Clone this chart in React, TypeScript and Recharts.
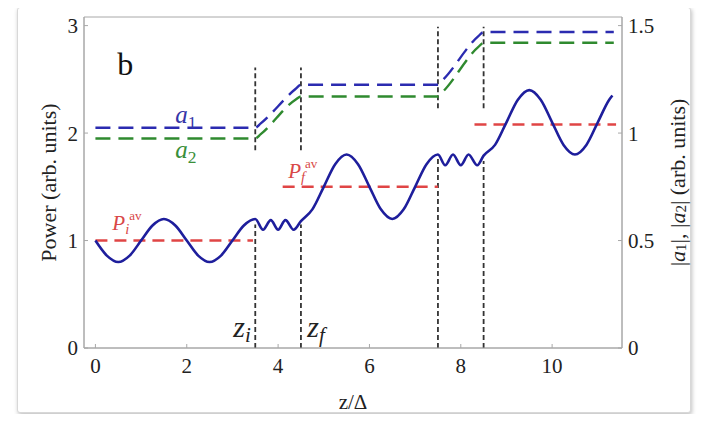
import React from 'react'
import {
  ComposedChart,
  Line,
  XAxis,
  YAxis,
  ReferenceLine,
  ReferenceDot,
  ReferenceArea,
} from 'recharts'

// power P(z)
const powerZ = [
  0, 0.25, 0.5, 0.75, 1, 1.25, 1.5, 1.75, 2, 2.25, 2.5, 2.75, 3, 3.25, 3.5,
  3.67, 3.84, 4.0, 4.16, 4.34, 4.5, 4.75, 5, 5.25, 5.5, 5.75, 6, 6.25, 6.5,
  6.75, 7, 7.25, 7.5, 7.66, 7.83, 8.0, 8.17, 8.36, 8.5, 8.75, 9, 9.25, 9.5,
  9.75, 10, 10.25, 10.5, 10.75, 11, 11.25, 11.32,
]
const powerP = [
  1.0, 0.86, 0.8, 0.86, 1.0, 1.14, 1.2, 1.14, 1.0, 0.86, 0.8, 0.86, 1.0, 1.14, 1.2,
  1.1, 1.19, 1.1, 1.19, 1.1, 1.18, 1.29, 1.5, 1.71, 1.8, 1.71, 1.5, 1.29, 1.2,
  1.29, 1.5, 1.71, 1.8, 1.7, 1.8, 1.7, 1.8, 1.7, 1.79, 1.89, 2.1, 2.31, 2.4,
  2.31, 2.1, 1.89, 1.8, 1.89, 2.1, 2.31, 2.35,
]

// averaged power levels
const avgI = { z: [0, 3.45], p: 1.0 }
const avgF = { z: [4.1, 7.5], p: 1.5 }
const avgL = { z: [8.3, 11.4], p: 2.08 }

// |a1|, |a2| on the right axis
const ampZ = [0, 3.5, 3.62, 4.38, 4.5, 7.5, 7.62, 8.38, 8.5, 11.35]
const amp1 = [1.025, 1.025, 1.045, 1.205, 1.225, 1.225, 1.25, 1.45, 1.47, 1.47]
const amp2 = [0.975, 0.975, 0.995, 1.155, 1.17, 1.17, 1.195, 1.4, 1.42, 1.42]

// dashed vertical markers, [z, from, to] in power units
const markers: [number, number, number][] = [
  [3.5, 0, 1.15], [3.5, 1.84, 2.61],
  [4.5, 0, 1.15], [4.5, 1.84, 2.61],
  [7.5, 0, 1.76], [7.5, 2.23, 2.99],
  [8.5, 0, 1.74], [8.5, 2.23, 2.99],
]

const xTicks = [0, 2, 4, 6, 8, 10]
const leftTicks = [0, 1, 2, 3]
const rightTicks = [0, 0.5, 1, 1.5]

const powerData = powerZ.map((z, i) => ({ z, p: powerP[i] }))
const ampData1 = ampZ.map((z, i) => ({ z, a: amp1[i] }))
const ampData2 = ampZ.map((z, i) => ({ z, a: amp2[i] }))
const avgLine = (s: { z: number[]; p: number }) => s.z.map((z) => ({ z, p: s.p }))

const SERIF = "'Liberation Serif', 'Times New Roman', Times, serif"
const BLUE = '#1e1e9c'
const GREEN = '#2f8a2f'
const RED = '#e04545'

type Note = {
  z: number
  y: number
  color: string
  size: number
  body: (size: number) => React.ReactNode
}

const notes: Note[] = [
  { z: 0.48, y: 2.54, color: '#111', size: 32, body: () => <tspan>b</tspan> },
  {
    z: 1.75, y: 2.09, color: '#3535a8', size: 25,
    body: (s) => (<><tspan fontStyle="italic">a</tspan><tspan fontSize={s * 0.7} dy={5}>1</tspan></>),
  },
  {
    z: 1.75, y: 1.77, color: '#3a8f3a', size: 25,
    body: (s) => (<><tspan fontStyle="italic">a</tspan><tspan fontSize={s * 0.7} dy={5}>2</tspan></>),
  },
  {
    z: 0.37, y: 1.1, color: '#d94848', size: 21,
    body: (s) => (<><tspan fontStyle="italic">P</tspan><tspan fontStyle="italic" fontSize={s * 0.7} dy={4}>i</tspan><tspan fontSize={s * 0.62} dy={-14}>av</tspan></>),
  },
  {
    z: 4.22, y: 1.58, color: '#d94848', size: 21,
    body: (s) => (<><tspan fontStyle="italic">P</tspan><tspan fontStyle="italic" fontSize={s * 0.7} dy={4}>f</tspan><tspan fontSize={s * 0.62} dy={-14}>av</tspan></>),
  },
  {
    z: 3.02, y: 0.1, color: '#222', size: 30,
    body: (s) => (<><tspan fontStyle="italic">z</tspan><tspan fontStyle="italic" fontSize={s * 0.7} dy={5}>i</tspan></>),
  },
  {
    z: 4.64, y: 0.1, color: '#222', size: 30,
    body: (s) => (<><tspan fontStyle="italic">z</tspan><tspan fontStyle="italic" fontSize={s * 0.7} dy={5}>f</tspan></>),
  },
]

const tickStyle = { fontFamily: SERIF, fontSize: 21, fill: '#222', style: { fontFamily: SERIF } }

export default function App() {
  return (
    <div style={{ position: 'relative', width: 710, height: 422, margin: -8, background: '#fff', fontFamily: SERIF }}>
      <div
        style={{
          position: 'absolute', left: 17, top: 7, width: 672, height: 404,
          border: '1px solid #d8d8d8', borderRadius: 3,
          boxShadow: '1px 2px 4px rgba(0,0,0,0.25)', background: '#fff',
        }}
      />
      <div style={{ position: 'absolute', left: 0, top: 0 }}>
        <ComposedChart width={710} height={422} margin={{ top: 17, right: 48, bottom: 34, left: 44 }}
          style={{ fontFamily: SERIF }}>
          <XAxis
            xAxisId="x" dataKey="z" type="number" domain={[-0.25, 11.53]} ticks={xTicks}
            allowDataOverflow stroke="#a8a8a8" tickSize={-4} tickMargin={14} tick={tickStyle}
            height={40}
            label={{
              content: ({ viewBox }: any) => (
                <text x={viewBox.x + viewBox.width / 2} y={viewBox.y + 54} textAnchor="middle"
                  dominantBaseline="central" style={{ fontFamily: SERIF }} fontSize={21} fill="#222">z/Δ</text>
              ),
            }}
          />
          <YAxis
            yAxisId="l" type="number" domain={[0, 3.08]} ticks={leftTicks} allowDataOverflow
            stroke="#a8a8a8" tickSize={-4} tickMargin={10} tick={tickStyle} width={40}
            label={{
              content: ({ viewBox }: any) => {
                const x = viewBox.x + 4
                const y = viewBox.y + viewBox.height / 2
                return (
                  <text x={x} y={y} transform={`rotate(-90, ${x}, ${y})`} textAnchor="middle"
                    dominantBaseline="central" style={{ fontFamily: SERIF }} fontSize={22} fill="#222">
                    Power (arb. units)
                  </text>
                )
              },
            }}
          />
          <YAxis
            yAxisId="r" orientation="right" type="number" domain={[0, 1.54]} ticks={rightTicks}
            allowDataOverflow stroke="#a8a8a8" tickSize={-4} tickMargin={10} tick={tickStyle} width={40}
            label={{
              content: ({ viewBox }: any) => {
                const x = viewBox.x + 55
                const y = viewBox.y + viewBox.height / 2
                return (
                  <text x={x} y={y} transform={`rotate(-90, ${x}, ${y})`} textAnchor="middle"
                    dominantBaseline="central" style={{ fontFamily: SERIF }} fontSize={22} fill="#222">
                    |<tspan fontStyle="italic">a</tspan><tspan fontSize={15} dy={4}>1</tspan>
                    <tspan dy={-4}>|, |</tspan><tspan fontStyle="italic">a</tspan>
                    <tspan fontSize={15} dy={4}>2</tspan><tspan dy={-4}>| (arb. units)</tspan>
                  </text>
                )
              },
            }}
          />
          <ReferenceArea
            xAxisId="x" yAxisId="l" x1={-0.25} x2={11.53} y1={0} y2={3.08}
            fill="none" stroke="#a8a8a8" strokeWidth={1} ifOverflow="visible"
          />
          {markers.map(([z, y1, y2], i) => (
            <ReferenceLine
              key={'m' + i} xAxisId="x" yAxisId="l"
              segment={[{ x: z, y: y1 }, { x: z, y: y2 }]}
              stroke="#333" strokeWidth={1.8} strokeDasharray="5 3"
            />
          ))}
          {[avgI, avgF, avgL].map((s, i) => (
            <Line
              key={'avg' + i} xAxisId="x" yAxisId="l" data={avgLine(s)} dataKey="p" type="linear"
              stroke={RED} strokeWidth={2.4} strokeDasharray="12 7" dot={false} isAnimationActive={false}
            />
          ))}
          <Line
            xAxisId="x" yAxisId="r" data={ampData1} dataKey="a" type="monotone"
            stroke="#2b2bb0" strokeWidth={2.4} strokeDasharray="15 8" dot={false} isAnimationActive={false}
          />
          <Line
            xAxisId="x" yAxisId="r" data={ampData2} dataKey="a" type="monotone"
            stroke={GREEN} strokeWidth={2.4} strokeDasharray="15 8" dot={false} isAnimationActive={false}
          />
          <Line
            xAxisId="x" yAxisId="l" data={powerData} dataKey="p" type="monotone"
            stroke={BLUE} strokeWidth={2.6} dot={false} isAnimationActive={false}
          />
          {notes.map((n, i) => (
            <ReferenceDot
              key={'n' + i} xAxisId="x" yAxisId="l" x={n.z} y={n.y} r={1}
              fill="none" stroke="none" ifOverflow="visible"
              label={{
                content: ({ viewBox }: any) => (
                  <text x={viewBox.x + 1} y={viewBox.y + 1} style={{ fontFamily: SERIF }} fontSize={n.size} fill={n.color}>
                    {n.body(n.size)}
                  </text>
                ),
              }}
            />
          ))}
        </ComposedChart>
      </div>
    </div>
  )
}
